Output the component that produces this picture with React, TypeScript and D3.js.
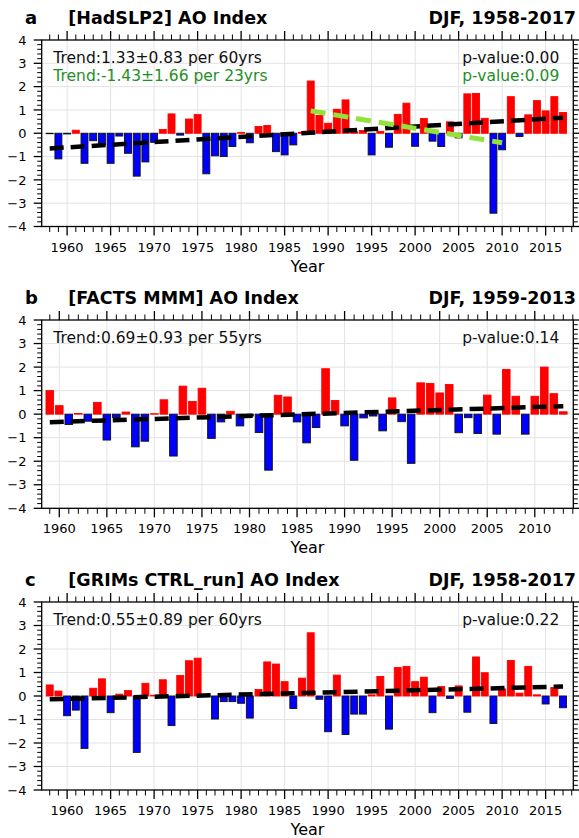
import { useEffect, useRef } from "react";
import * as d3 from "d3";

// AO index, DJF means
const hadYears = d3.range(1958, 2018);
const hadSLP2 = [
  -0.02, -1.1, -0.03, 0.13, -1.29, -0.32, -0.5, -1.29, -0.12, -0.86,
  -1.84, -1.23, -0.39, 0.16, 0.83, -0.08, 0.61, 0.8, -1.74, -0.97,
  -1.0, -0.57, 0.03, -0.41, 0.29, 0.33, -0.79, -0.93, -0.5, 0.04,
  2.24, 0.76, 0.43, 1.03, 1.43, 0.06, 0.12, -0.93, 0.08, -0.6,
  0.81, 1.29, -0.56, 0.63, -0.34, -0.57, 0.49, -0.2, 1.69, 1.71,
  0.64, -3.43, -0.71, 1.57, -0.14, 0.79, 1.4, 0.96, 1.57, 0.89,
];

const factsYears = d3.range(1959, 2014);
const factsMMM = [
  1.0, 0.36, -0.44, 0.03, -0.3, 0.5, -1.1, -0.14, 0.09, -1.39,
  -1.15, 0.02, 0.61, -1.78, 1.19, 0.54, 1.1, -1.03, -0.33, 0.12,
  -0.5, -0.08, -0.78, -2.38, 0.8, 0.73, -0.33, -1.22, -0.57, 1.93,
  0.58, -0.5, -1.96, -0.16, -0.08, -0.71, 0.69, -0.32, -2.09, 1.33,
  1.3, 0.9, 1.26, -0.79, -0.15, -0.82, 0.81, -0.85, 1.9, 0.76,
  -0.85, 0.76, 2.0, 0.87, 0.1,
];

const grimsYears = d3.range(1958, 2018);
const grimsCtrl = [
  0.47, 0.21, -0.84, -0.6, -2.23, 0.33, 0.73, -0.71, 0.08, 0.23,
  -2.4, 0.54, 0.03, 0.69, -1.26, 0.87, 1.5, 1.61, 0.04, -0.98,
  -0.24, -0.24, -0.31, -0.94, 0.28, 1.45, 1.36, 0.61, -0.53, 0.76,
  2.69, -0.14, -1.52, 0.89, -1.64, -0.77, -0.77, 0.05, 0.83, -1.41,
  1.21, 1.26, 0.61, 0.8, -0.71, 0.4, -0.1, 0.43, -0.69, 1.66,
  0.99, -1.17, 0.3, 1.51, 0.12, 1.26, 0.05, -0.34, 0.36, -0.5,
];

// trend lines (year, value) end points
const hadTrend = [[1958, -0.65], [2017, 0.67]];
const hadTrendRecent = [[1988, 0.96], [2010, -0.41]];
const factsTrend = [[1959, -0.34], [2013, 0.34]];
const grimsTrend = [[1958, -0.14], [2017, 0.4]];

const yTicks = [-4, -3, -2, -1, 0, 1, 2, 3, 4];

const panels = [
  {
    letter: "a",
    title: "[HadSLP2] AO Index",
    period: "DJF, 1958-2017",
    years: hadYears,
    values: hadSLP2,
    xDomain: [1957.08, 2018.18],
    top: 40,
    bottom: 226.5,
    notes: [
      { text: "Trend:1.33\u00b10.83 per 60yrs", p: "p-value:0.00", color: "#111" },
      { text: "Trend:-1.43\u00b11.66 per 23yrs", p: "p-value:0.09", color: "#1f8f1f" },
    ],
    lines: [
      { pts: hadTrend, color: "#000", width: 4.5, dash: "14,7" },
      { pts: hadTrendRecent, color: "#93e23a", width: 5, dash: "15,8" },
    ],
  },
  {
    letter: "b",
    title: "[FACTS MMM] AO Index",
    period: "DJF, 1959-2013",
    years: factsYears,
    values: factsMMM,
    xDomain: [1958.15, 2014.05],
    top: 320,
    bottom: 508.3,
    notes: [{ text: "Trend:0.69\u00b10.93 per 55yrs", p: "p-value:0.14", color: "#111" }],
    lines: [{ pts: factsTrend, color: "#000", width: 4.5, dash: "14,7" }],
  },
  {
    letter: "c",
    title: "[GRIMs CTRL_run] AO Index",
    period: "DJF, 1958-2017",
    years: grimsYears,
    values: grimsCtrl,
    xDomain: [1957.08, 2018.18],
    top: 602,
    bottom: 790,
    notes: [{ text: "Trend:0.55\u00b10.89 per 60yrs", p: "p-value:0.22", color: "#111" }],
    lines: [{ pts: grimsTrend, color: "#000", width: 4.5, dash: "14,7" }],
  },
];

const W = 579;
const H = 838;
const left = 41.7;
const right = 573.3;
const font = "DejaVu Sans, sans-serif";

const drawPanel = (svg, p) => {
  const x = d3.scaleLinear().domain(p.xDomain).range([left, right]);
  const y = d3.scaleLinear().domain([-4, 4]).range([p.bottom, p.top]);
  const g = svg.append("g");

  const firstMajor = Math.ceil(p.xDomain[0] / 5) * 5;
  const majorYears = d3.range(firstMajor, p.xDomain[1], 5);
  const minorYears = d3.range(Math.ceil(p.xDomain[0]), p.xDomain[1], 1);
  const minorY = d3.range(-4, 4.001, 0.2);

  // grid
  g.selectAll(".gx")
    .data(majorYears)
    .join("line")
    .attr("x1", (d) => x(d))
    .attr("x2", (d) => x(d))
    .attr("y1", p.top)
    .attr("y2", p.bottom)
    .attr("stroke", "#e3e3e3")
    .attr("stroke-width", 1);
  g.selectAll(".gy")
    .data(yTicks.slice(1, -1))
    .join("line")
    .attr("x1", left)
    .attr("x2", right)
    .attr("y1", (d) => y(d))
    .attr("y2", (d) => y(d))
    .attr("stroke", "#e3e3e3")
    .attr("stroke-width", 1);

  // bars
  const data = p.years.map((yr, i) => ({ yr, v: p.values[i] }));
  g.selectAll(".bar")
    .data(data)
    .join("rect")
    .attr("x", (d) => x(d.yr - 0.4))
    .attr("width", (d) => x(d.yr + 0.4) - x(d.yr - 0.4))
    .attr("y", (d) => y(Math.max(0, d.v)))
    .attr("height", (d) => Math.abs(y(d.v) - y(0)))
    .attr("fill", (d) => (d.v >= 0 ? "#ff0000" : "#0000ff"))
    .attr("stroke", (d) => (d.v >= 0 ? "#ff0000" : "#111"))
    .attr("stroke-width", 0.9);

  // trend lines
  const line = d3
    .line()
    .x((d) => x(d[0]))
    .y((d) => y(d[1]));
  p.lines.forEach((l) => {
    g.append("path")
      .attr("d", line(l.pts))
      .attr("fill", "none")
      .attr("stroke", l.color)
      .attr("stroke-width", l.width)
      .attr("stroke-dasharray", l.dash);
  });

  // frame
  g.append("rect")
    .attr("x", left)
    .attr("y", p.top)
    .attr("width", right - left)
    .attr("height", p.bottom - p.top)
    .attr("fill", "none")
    .attr("stroke", "#000")
    .attr("stroke-width", 1.3);

  // ticks on all four sides, outward
  const tick = (x1, y1, x2, y2, w) =>
    g.append("line")
      .attr("x1", x1)
      .attr("y1", y1)
      .attr("x2", x2)
      .attr("y2", y2)
      .attr("stroke", "#000")
      .attr("stroke-width", w);
  minorYears.forEach((yr) => {
    const major = yr % 5 === 0;
    const len = major ? 9 : 5.5;
    const w = major ? 1.3 : 1;
    tick(x(yr), p.bottom, x(yr), p.bottom + len, w);
    tick(x(yr), p.top, x(yr), p.top - len, w);
  });
  minorY.forEach((v) => {
    const major = Math.abs(v - Math.round(v)) < 1e-6;
    const len = major ? 8 : 4.5;
    const w = major ? 1.3 : 1;
    tick(left, y(v), left - len, y(v), w);
    tick(right, y(v), right + len, y(v), w);
  });

  // tick labels
  g.selectAll(".xl")
    .data(majorYears)
    .join("text")
    .attr("x", (d) => x(d))
    .attr("y", p.bottom + 25)
    .attr("text-anchor", "middle")
    .style("font-family", font)
    .style("font-size", "13px")
    .text((d) => d);
  g.selectAll(".yl")
    .data(yTicks)
    .join("text")
    .attr("x", 26.5)
    .attr("y", (d) => y(d))
    .attr("dy", "0.36em")
    .attr("text-anchor", "end")
    .style("font-family", font)
    .style("font-size", "13px")
    .text((d) => (d < 0 ? "\u2212" + Math.abs(d) : d));

  g.append("text")
    .attr("x", (left + right) / 2)
    .attr("y", p.bottom + 45)
    .attr("text-anchor", "middle")
    .style("font-family", font)
    .style("font-size", "16px")
    .text("Year");

  // titles
  const titleY = p.top - 16;
  g.append("text")
    .attr("x", 25)
    .attr("y", titleY)
    .style("font-family", font)
    .style("font-size", "18px")
    .style("font-weight", "bold")
    .text(p.letter);
  g.append("text")
    .attr("x", 68.3)
    .attr("y", titleY)
    .style("font-family", font)
    .style("font-size", "17.5px")
    .style("font-weight", "bold")
    .text(p.title);
  g.append("text")
    .attr("x", 576)
    .attr("y", titleY)
    .attr("text-anchor", "end")
    .style("font-family", font)
    .style("font-size", "17.5px")
    .style("font-weight", "bold")
    .text(p.period);

  // trend notes
  p.notes.forEach((n, i) => {
    const ty = p.top + 22.5 + i * 18.2;
    g.append("text")
      .attr("x", 53.3)
      .attr("y", ty)
      .attr("fill", n.color)
      .style("font-family", font)
      .style("font-size", "15.5px")
      .text(n.text);
    g.append("text")
      .attr("x", 559.3)
      .attr("y", ty)
      .attr("text-anchor", "end")
      .attr("fill", n.color)
      .style("font-family", font)
      .style("font-size", "15.5px")
      .text(n.p);
  });
};

const AOChart = () => {
  const ref = useRef(null);

  useEffect(() => {
    const svg = d3.select(ref.current);
    svg.selectAll("*").remove();
    svg.append("rect").attr("width", W).attr("height", H).attr("fill", "#fff");
    panels.forEach((p) => drawPanel(svg, p));
  }, []);

  return (
    <svg
      ref={ref}
      width={W}
      height={H}
      viewBox={`0 0 ${W} ${H}`}
      style={{ position: "absolute", left: 0, top: 0, display: "block" }}
    ></svg>
  );
};

export default function App() {
  return <AOChart />;
}
